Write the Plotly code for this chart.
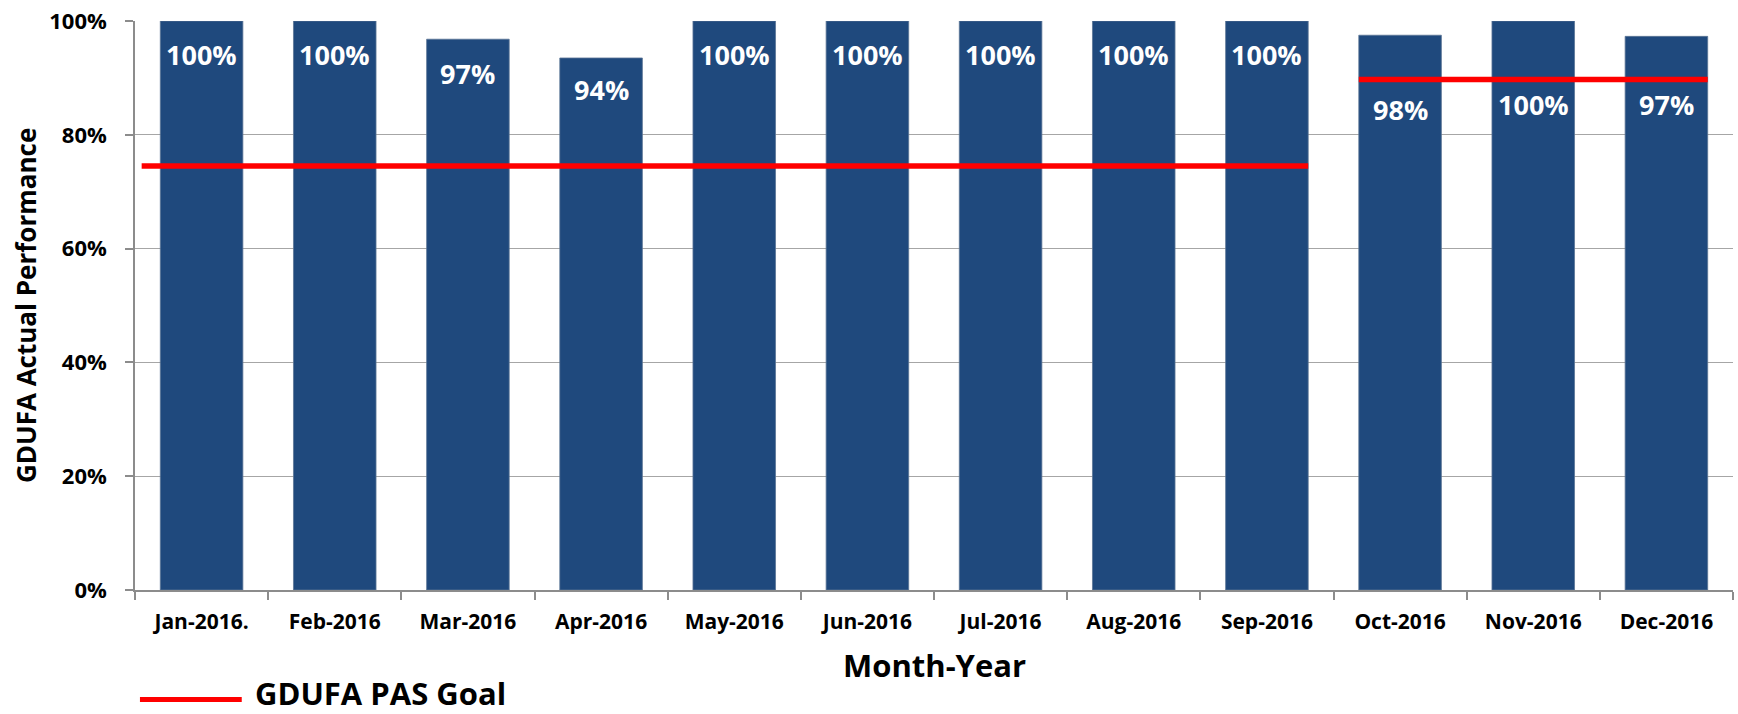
import plotly.graph_objects as go

# ---- data ----
months = ["Jan-2016.", "Feb-2016", "Mar-2016", "Apr-2016", "May-2016", "Jun-2016",
          "Jul-2016", "Aug-2016", "Sep-2016", "Oct-2016", "Nov-2016", "Dec-2016"]
performance = [100, 100, 96.8, 93.5, 100, 100, 100, 100, 100, 97.5, 100, 97.3]
perf_labels = ["100%", "100%", "97%", "94%", "100%", "100%", "100%", "100%", "100%",
               "98%", "100%", "97%"]
goal_start = ["Jan-2016.", "Oct-2016"]
goal_end = ["Sep-2016", "Dec-2016"]
goal_value = [74.5, 89.7]
y_ticks = [0, 20, 40, 60, 80, 100]
y_tick_text = ["0%", "20%", "40%", "60%", "80%", "100%"]

# ---- style ----
BAR_COLOR = "#1F497D"
GOAL_COLOR = "#FF0000"
FONT = "Open Sans"
BAR_WIDTH = 0.62
label_shift = [-33, -33, -34, -32, -33, -33, -33, -33, -33, -74, -83, -68]
goal_pad_left = [0.14, 0.0]

xs = list(range(len(months)))
fig = go.Figure()
fig.add_trace(go.Bar(x=xs, y=performance, width=BAR_WIDTH,
                     marker=dict(color=BAR_COLOR, line=dict(color="#5a7596", width=0.8)),
                     showlegend=False, hoverinfo="skip"))

for s, e, v, pad in zip(goal_start, goal_end, goal_value, goal_pad_left):
    i0 = months.index(s) - BAR_WIDTH / 2 - pad
    i1 = months.index(e) + BAR_WIDTH / 2
    fig.add_trace(go.Scatter(x=[i0, i1], y=[v, v], mode="lines",
                             line=dict(color=GOAL_COLOR, width=5.5),
                             showlegend=False, hoverinfo="skip"))

for i, (val, lab, sh) in enumerate(zip(performance, perf_labels, label_shift)):
    fig.add_annotation(x=i, y=val, text=lab, showarrow=False, yshift=sh,
                       font=dict(family=FONT, size=27, color="white", weight="bold"))

# axis titles
fig.add_annotation(xref="paper", yref="paper", x=0.5, y=-0.1313, yanchor="middle",
                   text="Month-Year", showarrow=False,
                   font=dict(family=FONT, size=31, color="black", weight="bold"))
fig.add_annotation(xref="paper", yref="paper", x=-0.0685, y=0.5, xanchor="center",
                   yanchor="middle", textangle=-90,
                   text="GDUFA Actual Performance", showarrow=False,
                   font=dict(family=FONT, size=26, color="black", weight="bold"))

# manual legend
fig.add_shape(type="line", xref="paper", yref="paper", x0=0.0031, x1=0.0668,
              y0=-0.1925, y1=-0.1925, line=dict(color=GOAL_COLOR, width=5))
fig.add_annotation(xref="paper", yref="paper", x=0.0738, y=-0.181, xanchor="left",
                   yanchor="middle", text="GDUFA PAS Goal", showarrow=False,
                   font=dict(family=FONT, size=31, color="black", weight="bold"))

fig.update_layout(
    width=1738, height=714,
    margin=dict(l=135, r=5, t=19, b=124),
    plot_bgcolor="white", paper_bgcolor="white",
    bargap=1 - BAR_WIDTH,
)
fig.update_xaxes(
    range=[-0.5, len(months) - 0.5], tickmode="array", tickvals=xs, ticktext=months,
    ticks="", showgrid=False, zeroline=False,
    showline=True, linecolor="#8c8c8c", linewidth=1.5,
    tickfont=dict(family=FONT, size=21, color="black", weight="bold"),
    ticklabelstandoff=12,
    minor=dict(ticks="outside", tick0=0.5, dtick=1, ticklen=8, tickcolor="#8c8c8c",
               tickwidth=1.5, showgrid=False),
)
fig.update_yaxes(
    range=[0, 100], tickmode="array", tickvals=y_ticks, ticktext=y_tick_text,
    ticks="outside", ticklen=8, tickcolor="#8c8c8c", tickwidth=1.5,
    showgrid=True, gridcolor="#a6a6a6", gridwidth=1.2, zeroline=False,
    showline=True, linecolor="#8c8c8c", linewidth=1.5,
    tickfont=dict(family=FONT, size=22, color="black", weight="bold"),
    ticklabelstandoff=14, ticklabeloverflow="allow",
)

fig.write_html("out.html", config={"displayModeBar": False},
               post_script="document.body.style.margin='0';")
